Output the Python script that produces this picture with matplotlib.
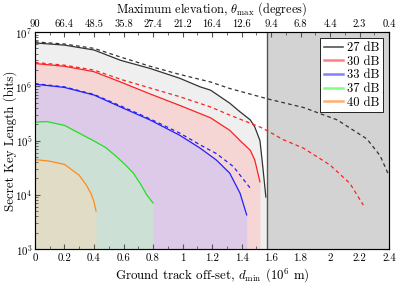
import matplotlib
matplotlib.use('Agg')
import matplotlib.pyplot as plt
from matplotlib.lines import Line2D
from matplotlib.ticker import FixedLocator, LogLocator, NullFormatter, FuncFormatter
import numpy as np

plt.rcParams['font.family'] = 'serif'
plt.rcParams['font.serif'] = ['cmr10']
plt.rcParams['mathtext.fontset'] = 'cm'
plt.rcParams['axes.formatter.use_mathtext'] = True

# ground track offset (10^6 m) and log10 of secret key length (bits)
x27 = [0, 0.2, 0.4, 0.58, 0.78, 0.98, 1.12, 1.19, 1.32, 1.39, 1.46, 1.49, 1.525, 1.545, 1.565]
y27 = [6.80, 6.76, 6.67, 6.48, 6.33, 6.15, 5.99, 5.93, 5.69, 5.53, 5.38, 5.25, 5.00, 4.50, 3.96]
x27d = [0, 0.2, 0.4, 0.58, 0.78, 0.98, 1.19, 1.32, 1.59, 1.82, 2.05, 2.25, 2.34, 2.4]
y27d = [6.82, 6.78, 6.70, 6.54, 6.37, 6.22, 6.08, 5.96, 5.76, 5.61, 5.38, 5.03, 4.72, 4.35]

x30 = [0, 0.2, 0.4, 0.58, 0.78, 0.98, 1.19, 1.32, 1.39, 1.46, 1.49, 1.525]
y30 = [6.42, 6.37, 6.27, 6.08, 5.86, 5.65, 5.42, 5.19, 5.00, 4.82, 4.64, 4.24]
x30d = [0, 0.2, 0.4, 0.58, 0.78, 0.98, 1.19, 1.32, 1.525, 1.59, 1.68, 1.82, 2.0, 2.135, 2.226]
y30d = [6.44, 6.39, 6.30, 6.13, 5.97, 5.81, 5.62, 5.47, 5.25, 5.16, 5.02, 4.86, 4.55, 4.21, 3.81]

x33 = [0, 0.2, 0.4, 0.58, 0.78, 0.98, 1.12, 1.23, 1.32, 1.39, 1.435]
y33 = [6.04, 5.98, 5.84, 5.62, 5.38, 5.10, 4.86, 4.64, 4.40, 4.03, 3.63]
x33d = [0, 0.2, 0.4, 0.58, 0.78, 0.98, 1.12, 1.23, 1.345, 1.46]
y33d = [6.05, 5.99, 5.85, 5.64, 5.40, 5.14, 4.92, 4.76, 4.52, 4.12]

x37 = [0, 0.08, 0.2, 0.325, 0.395, 0.48, 0.554, 0.61, 0.667, 0.72, 0.757, 0.80]
y37 = [5.34, 5.35, 5.28, 5.10, 5.00, 4.87, 4.70, 4.56, 4.40, 4.18, 4.00, 3.85]

x40 = [0, 0.1, 0.2, 0.3, 0.35, 0.38, 0.4, 0.414]
y40 = [4.65, 4.62, 4.56, 4.36, 4.17, 4.02, 3.87, 3.70]

x_cut = 1.573
top_ticks = [0, 0.2, 0.4, 0.6, 0.8, 1.0, 1.2, 1.4, 1.6, 1.8, 2.0, 2.2, 2.4]
top_labels = ['90', '66.4', '48.5', '35.8', '27.4', '21.2', '16.4', '12.6', '9.4', '6.8', '4.4', '2.3', '0.4']

fig = plt.figure(figsize=(3.99, 2.84), dpi=100)
ax = fig.add_axes([0.0877, 0.123, 0.8873, 0.764])

def fill(x, y, c):
    x = list(x) + [x[-1]]
    y = list(10 ** np.array(y)) + [1e3]
    ax.fill_between(x, 1e3, y, color=c, lw=0, zorder=1)

fill(x27 + [x_cut], y27 + [3.96], '#efefef')
fill(x30, y30, '#f6d5d5')
fill(x33, y33, '#dccae8')
fill(x37, y37, '#cde0d5')
fill(x40, y40, '#e0dcc5')

ax.axvspan(x_cut, 2.4, color='#d3d3d3', zorder=2, lw=0)
ax.axvline(x_cut, color='#555555', lw=1.0, zorder=3)

dash = (0, (3, 2.5))
ax.plot(x27, 10 ** np.array(y27), color='#333333', lw=0.9, zorder=4)
ax.plot(x27d, 10 ** np.array(y27d), color='#333333', lw=0.9, ls=dash, zorder=4)
ax.plot(x30, 10 ** np.array(y30), color='#ff2020', lw=0.9, zorder=4)
ax.plot(x30d, 10 ** np.array(y30d), color='#ff2020', lw=0.9, ls=dash, zorder=4)
ax.plot(x33, 10 ** np.array(y33), color='#2020ff', lw=0.9, zorder=4)
ax.plot(x33d, 10 ** np.array(y33d), color='#2020ff', lw=0.9, ls=dash, zorder=4)
ax.plot(x37, 10 ** np.array(y37), color='#20e020', lw=0.9, zorder=4)
ax.plot(x40, 10 ** np.array(y40), color='#ff8c1a', lw=0.9, zorder=4)

ax.set_yscale('log')
ax.set_xlim(0, 2.4)
ax.set_ylim(1e3, 1e7)
ax.xaxis.set_major_locator(FixedLocator(top_ticks))
ax.xaxis.set_minor_locator(FixedLocator(np.arange(0.1, 2.4, 0.2)))
ax.xaxis.set_major_formatter(FuncFormatter(lambda v, p: '%g' % v))
ax.yaxis.set_major_locator(LogLocator(base=10, numticks=10))
ax.yaxis.set_minor_locator(LogLocator(base=10, subs=np.arange(2, 10), numticks=10))
ax.yaxis.set_minor_formatter(NullFormatter())
ax.tick_params(which='both', direction='in', right=True, labelsize=7.8, color='#555555', pad=3)
ax.tick_params(axis='y', pad=2)
ax.tick_params(which='major', length=3.5)
ax.tick_params(which='minor', length=2)
for s in ax.spines.values():
    s.set_color('#555555')

ax.set_xlabel(r'Ground track off-set, $d_{\rm min}$ ($10^6$ m)', fontsize=9.3, labelpad=3)
ax.set_ylabel('Secret Key Length (bits)', fontsize=9.3)
ax.yaxis.set_label_coords(-0.052, 0.5)

ax2 = ax.twiny()
ax2.set_xlim(0, 2.4)
ax2.xaxis.set_major_locator(FixedLocator(top_ticks))
ax2.xaxis.set_minor_locator(FixedLocator(np.arange(0.1, 2.4, 0.2)))
ax2.set_xticklabels(top_labels)
ax2.tick_params(which='both', direction='in', labelsize=7.6, color='#555555', pad=2.5)
ax2.tick_params(which='major', length=3.5)
ax2.tick_params(which='minor', length=2)
ax2.set_xlabel(r'Maximum elevation, $\theta_{\rm max}$ (degrees)', fontsize=8.9)
ax2.xaxis.set_label_coords(0.5, 1.088)

handles = [Line2D([], [], color='#555555', lw=1.2),
           Line2D([], [], color='#ff8080', lw=1.8),
           Line2D([], [], color='#8080ff', lw=1.8),
           Line2D([], [], color='#80ff80', lw=1.8),
           Line2D([], [], color='#ffb070', lw=1.8)]
leg = ax.legend(handles, ['27 dB', '30 dB', '33 dB', '37 dB', '40 dB'], loc='upper right',
                fontsize=9, fancybox=False, framealpha=1, edgecolor='black',
                handlelength=1.5, handletextpad=0.3, labelspacing=0.12,
                borderpad=0.3, borderaxespad=0.5)
leg.get_frame().set_linewidth(0.6)
leg.set_zorder(10)

fig.savefig('out.png', dpi=100)
